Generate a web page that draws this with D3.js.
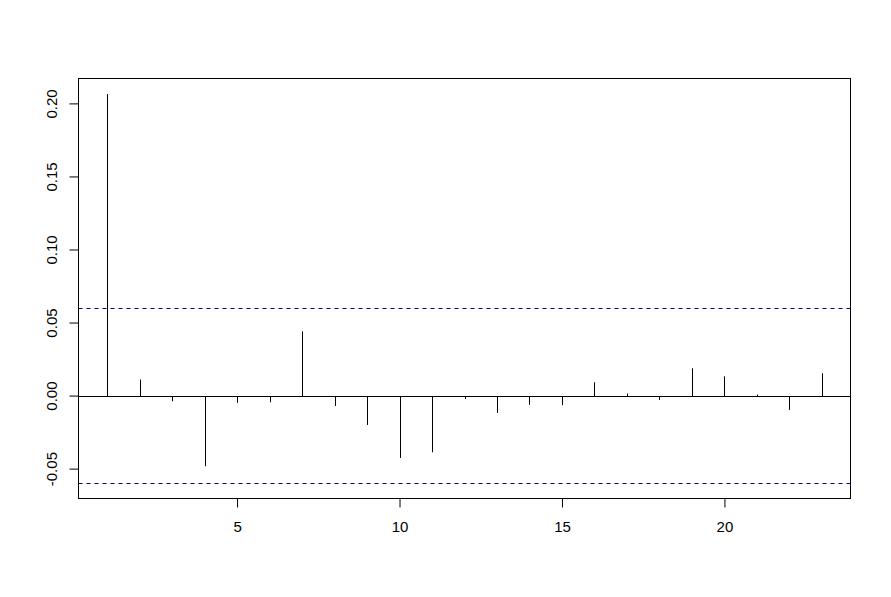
<!DOCTYPE html>
<html>
<head>
<meta charset="utf-8">
<script src="https://cdn.jsdelivr.net/npm/d3@7"></script>
<style>
  body { margin: 0; background: #fff; }
  text { font-family: "Liberation Sans", Arial, sans-serif; }
</style>
</head>
<body>
<div id="chart"></div>
<script>
// PACF values
const lags = [1,2,3,4,5,6,7,8,9,10,11,12,13,14,15,16,17,18,19,20,21,22,23];
const pacf = [0.2064, 0.011, -0.0039, -0.0484, -0.005, -0.0046, 0.044, -0.0071,
  -0.0201, -0.0427, -0.0388, -0.0023, -0.0119, -0.0064, -0.0066, 0.0091,
  0.0014, -0.003, 0.0187, 0.0132, 0.0007, -0.0098, 0.0153];
const clim = 0.0598;
const xTicks = [5, 10, 15, 20];
const yTicks = [-0.05, 0, 0.05, 0.1, 0.15, 0.2];

const W = 891, H = 597;
const box = { left: 78.5, right: 850.5, top: 78.5, bottom: 498.5 };

const svg = d3.select("#chart").append("svg")
  .attr("width", W).attr("height", H);

// R style 4% extended ranges
const xr = d3.extent(lags), xe = (xr[1] - xr[0]) * 0.04;
const x = d3.scaleLinear().domain([xr[0] - xe, xr[1] + xe]).range([box.left, box.right]);
const yr = [Math.min(-clim, d3.min(pacf)), Math.max(clim, d3.max(pacf))];
const ye = (yr[1] - yr[0]) * 0.04;
const y = d3.scaleLinear().domain([yr[0] - ye, yr[1] + ye]).range([box.bottom, box.top]);

// zero line
svg.append("line")
  .attr("x1", box.left).attr("x2", box.right)
  .attr("y1", Math.round(y(0)) + 0.5).attr("y2", Math.round(y(0)) + 0.5)
  .attr("stroke", "#000");

// spikes
svg.selectAll(".spike")
  .data(lags)
  .join("line")
  .attr("class", "spike")
  .attr("x1", (d) => Math.round(x(d)) + 0.5)
  .attr("x2", (d) => Math.round(x(d)) + 0.5)
  .attr("y1", Math.round(y(0)) + 0.5)
  .attr("y2", (d, i) => y(pacf[i]))
  .attr("stroke", "#000");

// confidence bounds
svg.selectAll(".ci")
  .data([clim, -clim])
  .join("line")
  .attr("class", "ci")
  .attr("x1", box.left).attr("x2", box.right)
  .attr("y1", (d) => Math.round(y(d)) + 0.5)
  .attr("y2", (d) => Math.round(y(d)) + 0.5)
  .attr("stroke", "#00008b")
  .attr("stroke-dasharray", "4,4");

// axes
svg.append("g")
  .attr("transform", `translate(0,${box.bottom})`)
  .call(d3.axisBottom(x).tickValues(xTicks).tickFormat(d3.format("d")).tickSize(9).tickPadding(14))
  .call((g) => g.select(".domain").remove())
  .call((g) => g.selectAll("text").attr("font-size", 15).attr("fill", "#000"));

const fmt = d3.format(".2f");
const ya = svg.append("g")
  .attr("transform", `translate(${box.left},0)`)
  .call(d3.axisLeft(y).tickValues(yTicks).tickFormat((d) => fmt(d).replace("\u2212", "-")).tickSize(9))
  .call((g) => g.select(".domain").remove());
ya.selectAll("text")
  .attr("font-size", 15).attr("fill", "#000")
  .attr("x", 0).attr("dy", 0)
  .attr("text-anchor", "middle")
  .attr("transform", "translate(-22,0) rotate(-90)");

// plot box
svg.append("rect")
  .attr("x", box.left).attr("y", box.top)
  .attr("width", box.right - box.left).attr("height", box.bottom - box.top)
  .attr("fill", "none").attr("stroke", "#000");
</script>
</body>
</html>
